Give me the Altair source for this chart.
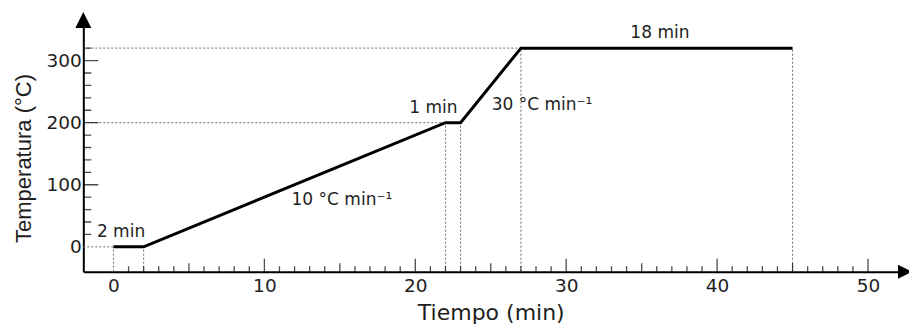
import altair as alt
import pandas as pd

# Heating program: breakpoints of the oven temperature
tiempo = [0, 2, 22, 23, 27, 45]
temperatura = [0, 0, 200, 200, 320, 320]

# Axis labels and tick marks
x_label_values = [0, 10, 20, 30, 40, 50]
y_label_values = [0, 100, 200, 300]
x_tick_values = list(range(1, 51))
y_tick_values = list(range(20, 340, 20))

# Annotations (text, left x, baseline y)
notas = ["2 min", "10 °C min⁻¹", "1 min", "30 °C min⁻¹", "18 min"]
nota_x = [-1.1, 11.8, 19.6, 25.06, 34.25]
nota_y = [16, 67.6, 215, 220.6, 336]

X_MIN, X_MAX = -2, 52
Y_MIN, Y_MAX = -40, 355

FONT = "DejaVu Sans"
INK = "#1e1e1e"

xs = alt.Scale(domain=[X_MIN, X_MAX], nice=False, zero=False)
ys = alt.Scale(domain=[Y_MIN, Y_MAX], nice=False, zero=False)

x_axis = alt.Axis(
    values=x_label_values, title="Tiempo (min)", grid=False, ticks=False, tickSize=0,
    domainColor="black", domainWidth=2, labelFont=FONT, labelFontSize=18.5,
    labelColor=INK, labelPadding=5, labelFlush=False,
    titleFont=FONT, titleFontSize=22, titleFontWeight="normal", titleColor=INK,
    titleY=48, titleBaseline="alphabetic",
)
y_axis = alt.Axis(
    values=y_label_values, title="Temperatura (°C)", grid=False, ticks=False, tickSize=0,
    domainColor="black", domainWidth=2, labelFont=FONT, labelFontSize=18.5,
    labelColor=INK, labelPadding=2, labelFlush=False,
    titleFont="Liberation Sans", titleFontSize=22, titleFontWeight="normal", titleColor=INK,
    titleAngle=270, titleAlign="center", titleBaseline="alphabetic",
    titleX=-53, titleY=131.6,
)


def X(field):
    return alt.X(field, type="quantitative", scale=xs, axis=x_axis)


def Y(field):
    return alt.Y(field, type="quantitative", scale=ys, axis=y_axis)


perfil = pd.DataFrame({"tiempo": tiempo, "temperatura": temperatura})

# dotted guides: from the time axis up to each breakpoint
guias_v = pd.DataFrame({"x": tiempo, "y0": [Y_MIN] * len(tiempo), "y1": temperatura})
# dotted guides: from the temperature axis to the first point at each level
niveles = []
for t, temp in zip(tiempo, temperatura):
    if temp not in [n[1] for n in niveles]:
        niveles.append((t, temp))
guias_h = pd.DataFrame({
    "x0": [X_MIN] * len(niveles),
    "x1": [n[0] for n in niveles],
    "y": [n[1] for n in niveles],
})

# inward tick marks (half of each tick is clipped away by the plot frame)
ticks_x = pd.DataFrame({
    "pos": x_tick_values,
    "base": [Y_MIN] * len(x_tick_values),
    "len": [26 if v % 10 == 0 else (17 if v % 5 == 0 else 11) for v in x_tick_values],
})
ticks_y = pd.DataFrame({
    "pos": y_tick_values,
    "base": [X_MIN] * len(y_tick_values),
    "len": [30 if v % 100 == 0 else 16 for v in y_tick_values],
})

# arrow heads at the end of each axis
flechas = pd.DataFrame({
    "x": [X_MIN, 52.45],
    "y": [365.5, Y_MIN],
    "forma": ["M-1,1L1,1L0,-1Z", "M-1,-1L1,0L-1,1Z"],
    "tam": [256, 196],
})

anot = pd.DataFrame({"nota": notas, "x": nota_x, "y": nota_y})

capa_guias_v = alt.Chart(guias_v).mark_rule(
    color="#6e6e6e", strokeWidth=1, strokeDash=[2, 2]
).encode(x=X("x"), y=Y("y0"), y2="y1")

capa_guias_h = alt.Chart(guias_h).mark_rule(
    color="#6e6e6e", strokeWidth=1, strokeDash=[2, 2]
).encode(x=X("x0"), x2="x1", y=Y("y"))

capa_ticks_x = alt.Chart(ticks_x).mark_tick(
    orient="vertical", color="black", thickness=1.3, clip=True
).encode(x=X("pos"), y=Y("base"), size=alt.Size("len:Q", scale=None, legend=None))

capa_ticks_y = alt.Chart(ticks_y).mark_tick(
    orient="horizontal", color="black", thickness=1.3, clip=True
).encode(x=X("base"), y=Y("pos"), size=alt.Size("len:Q", scale=None, legend=None))

capa_perfil = alt.Chart(perfil).mark_line(
    color="black", strokeWidth=3, strokeJoin="miter"
).encode(x=X("tiempo"), y=Y("temperatura"))

capa_flechas = alt.Chart(flechas).mark_point(
    filled=True, color="black", opacity=1, strokeWidth=0
).encode(
    x=X("x"), y=Y("y"),
    shape=alt.Shape("forma:N", scale=None, legend=None),
    size=alt.Size("tam:Q", scale=None, legend=None),
)

capa_texto = alt.Chart(anot).mark_text(
    align="left", baseline="alphabetic", font=FONT, fontSize=17, color=INK
).encode(x=X("x"), y=Y("y"), text="nota:N")

chart = alt.layer(
    capa_guias_v, capa_guias_h, capa_ticks_x, capa_ticks_y,
    capa_perfil, capa_flechas, capa_texto,
).properties(
    width=814.9,
    height=245.3,
    autosize=alt.AutoSizeParams(type="none"),
    padding={"left": 83.3, "top": 26.4, "right": 10.8, "bottom": 52.3},
    background="white",
).configure_view(stroke=None)

chart.save("out.html", embed_options={"renderer": "svg", "actions": False})
